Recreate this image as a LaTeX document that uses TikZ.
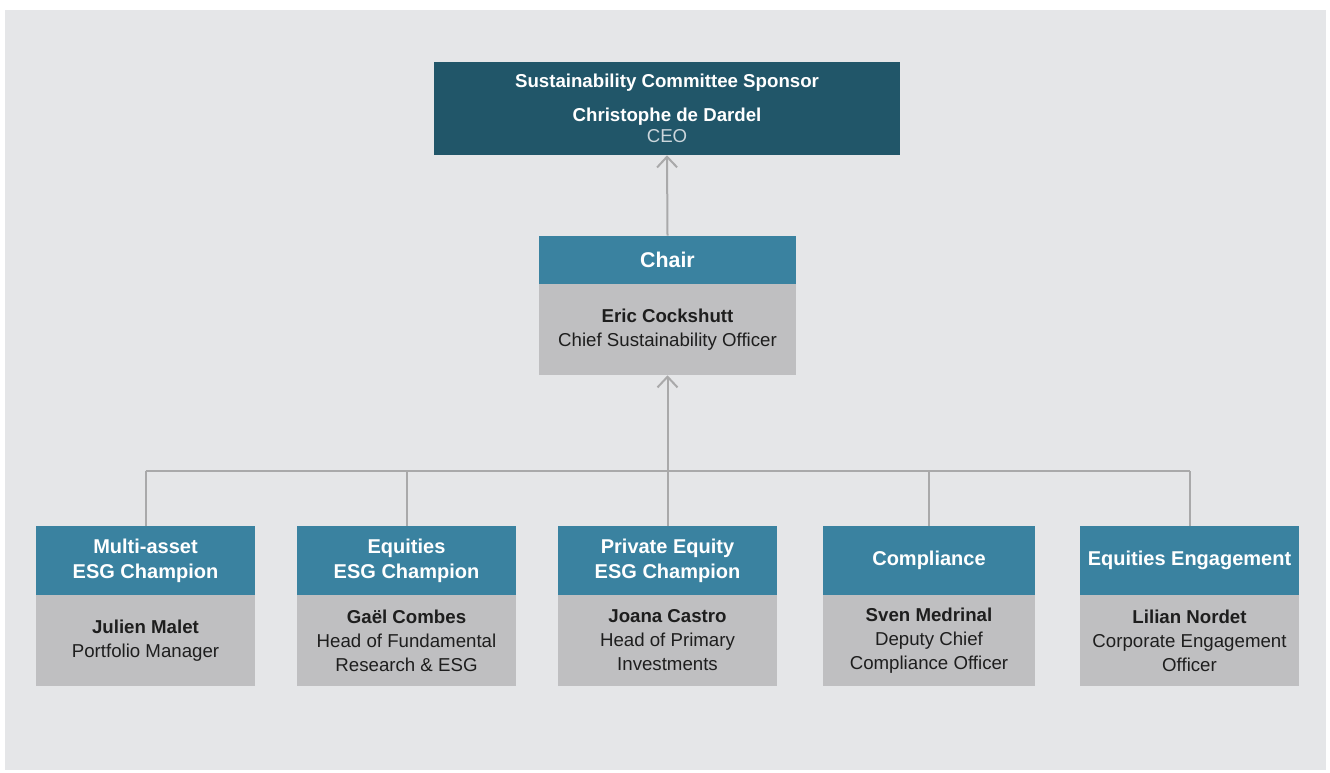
\documentclass[tikz,border=0pt]{standalone}
\usepackage{fontspec}
\setmainfont{Liberation Sans}
\usetikzlibrary{arrows.meta}

\definecolor{bgGray}{HTML}{E5E6E8}
\definecolor{topTeal}{HTML}{215669}
\definecolor{headTeal}{HTML}{3A82A0}
\definecolor{bodyGray}{HTML}{BFBFC1}
\definecolor{lineGray}{HTML}{A9A9AA}
\definecolor{textDark}{HTML}{1E1E1E}
\definecolor{ceoGray}{HTML}{CBD6DC}

\begin{document}
\begin{tikzpicture}[x=0.75pt, y=-0.75pt,
    head/.style={fill=headTeal, text=white, align=center, inner sep=0pt,
      font=\fontsize{15}{18.75}\selectfont\bfseries,
      minimum width=164.25pt, minimum height=51.75pt},
    body/.style={fill=bodyGray, text=textDark, align=center, inner sep=0pt,
      font=\fontsize{14}{18}\selectfont,
      minimum width=164.25pt, minimum height=68.25pt},
    link/.style={draw=lineGray, line width=1.5pt},
    up/.style={link, -{Straight Barb[length=8pt, width=15pt]}}]

  % Page and grey panel
  \fill[white] (0,0) rectangle (1330,772);
  \fill[bgGray] (5,10) rectangle (1326,770);

  % Sponsor
  \node[fill=topTeal, text=white, align=center, inner sep=0pt,
    font=\fontsize{14}{16}\selectfont,
    minimum width=349.5pt, minimum height=69.75pt] (sponsor) at (667,108.5)
    {\textbf{Sustainability Committee Sponsor}\\[9.5pt]
     \textbf{Christophe de Dardel}\\{\color{ceoGray}CEO}};

  % Chair
  \node[head, minimum width=192.75pt, minimum height=36pt,
    font=\fontsize{16}{19}\selectfont\bfseries] (chairhead) at (667.5,260) {Chair};
  \node[body, minimum width=192.75pt] (chairbody) at (667.5,329.5)
    {\textbf{Eric Cockshutt}\\Chief Sustainability Officer};

  % Champions row
  \foreach \i/\x/\w/\hd/\bd in {
    1/145.5/164.25pt/{Multi-asset\\ESG Champion}/{\textbf{Julien Malet}\\Portfolio Manager},
    2/406.5/164.25pt/{Equities\\ESG Champion}/{\textbf{Gaël Combes}\\Head of Fundamental\\Research \& ESG},
    3/667.5/164.25pt/{Private Equity\\ESG Champion}/{\textbf{Joana Castro}\\Head of Primary\\Investments},
    4/929/159pt/{Compliance}/{\textbf{Sven Medrinal}\\Deputy Chief\\Compliance Officer},
    5/1189.5/164.25pt/{Equities Engagement}/{\textbf{Lilian Nordet}\\Corporate Engagement\\Officer}}
  {
    \node[head, minimum width=\w] (h\i) at (\x,560.5) {\hd};
    \node[body, minimum width=\w] (b\i) at (\x,640.5) {\bd};
    \coordinate (t\i) at (\x,471);
  }

  % Connectors
  \draw[link] (t1) -- (t5);
  \foreach \i in {1,2,4,5}
    {\draw[link] (h\i.north) -- (t\i);}
  \draw[up] (h3.north) -- (chairbody.south);
  \draw[up] (chairhead.north) -- (sponsor.south);
\end{tikzpicture}
\end{document}
